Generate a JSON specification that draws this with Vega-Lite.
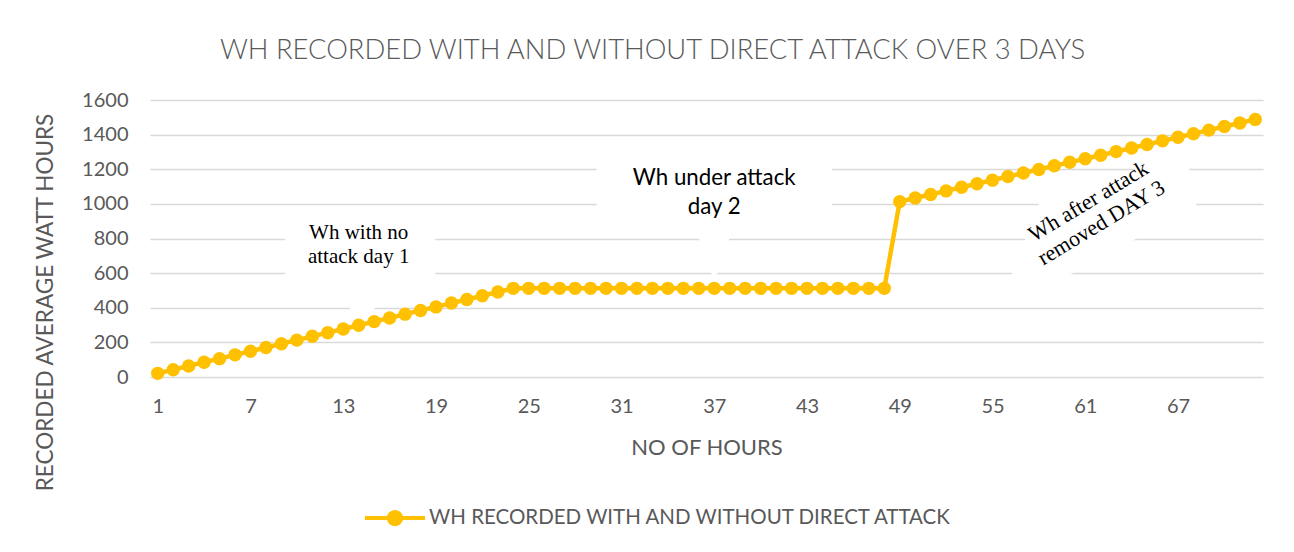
{
  "$schema": "https://vega.github.io/schema/vega-lite/v6.json",
  "width": 1113,
  "height": 277,
  "autosize": "none",
  "padding": {"left": 150, "top": 100, "right": 31, "bottom": 175},
  "background": "white",
  "config": {
    "view": {"stroke": null},
    "font": "Lato"
  },
  "title": {
    "text": "WH RECORDED WITH AND WITHOUT DIRECT ATTACK OVER 3 DAYS",
    "anchor": "middle",
    "frame": "group",
    "dx": -54,
    "offset": 26,
    "font": "Lato",
    "fontSize": 27.4,
    "fontWeight": 300,
    "color": "#595959"
  },
  "data": {
    "values": [
      {"hour": 1, "wh": 21}, {"hour": 2, "wh": 42}, {"hour": 3, "wh": 64}, {"hour": 4, "wh": 85},
      {"hour": 5, "wh": 106}, {"hour": 6, "wh": 128}, {"hour": 7, "wh": 149}, {"hour": 8, "wh": 170},
      {"hour": 9, "wh": 192}, {"hour": 10, "wh": 213}, {"hour": 11, "wh": 235}, {"hour": 12, "wh": 256},
      {"hour": 13, "wh": 277}, {"hour": 14, "wh": 299}, {"hour": 15, "wh": 320}, {"hour": 16, "wh": 341},
      {"hour": 17, "wh": 363}, {"hour": 18, "wh": 384}, {"hour": 19, "wh": 405}, {"hour": 20, "wh": 427},
      {"hour": 21, "wh": 448}, {"hour": 22, "wh": 469}, {"hour": 23, "wh": 491}, {"hour": 24, "wh": 512},
      {"hour": 25, "wh": 512}, {"hour": 26, "wh": 512}, {"hour": 27, "wh": 512}, {"hour": 28, "wh": 512},
      {"hour": 29, "wh": 512}, {"hour": 30, "wh": 512}, {"hour": 31, "wh": 512}, {"hour": 32, "wh": 512},
      {"hour": 33, "wh": 512}, {"hour": 34, "wh": 512}, {"hour": 35, "wh": 512}, {"hour": 36, "wh": 512},
      {"hour": 37, "wh": 512}, {"hour": 38, "wh": 512}, {"hour": 39, "wh": 512}, {"hour": 40, "wh": 512},
      {"hour": 41, "wh": 512}, {"hour": 42, "wh": 512}, {"hour": 43, "wh": 512}, {"hour": 44, "wh": 512},
      {"hour": 45, "wh": 512}, {"hour": 46, "wh": 512}, {"hour": 47, "wh": 512}, {"hour": 48, "wh": 512},
      {"hour": 49, "wh": 1013}, {"hour": 50, "wh": 1034}, {"hour": 51, "wh": 1054}, {"hour": 52, "wh": 1075},
      {"hour": 53, "wh": 1096}, {"hour": 54, "wh": 1116}, {"hour": 55, "wh": 1137}, {"hour": 56, "wh": 1158},
      {"hour": 57, "wh": 1178}, {"hour": 58, "wh": 1199}, {"hour": 59, "wh": 1220}, {"hour": 60, "wh": 1240},
      {"hour": 61, "wh": 1261}, {"hour": 62, "wh": 1281}, {"hour": 63, "wh": 1302}, {"hour": 64, "wh": 1323},
      {"hour": 65, "wh": 1343}, {"hour": 66, "wh": 1364}, {"hour": 67, "wh": 1385}, {"hour": 68, "wh": 1405},
      {"hour": 69, "wh": 1426}, {"hour": 70, "wh": 1447}, {"hour": 71, "wh": 1467}, {"hour": 72, "wh": 1488}
    ]
  },
  "layer": [
    {
      "data": {"values": [{}]},
      "mark": {"type": "point", "shape": "M-0.98,-0.51 L1.02,-0.51 L1.02,0.51 L0.39,0.51 L0.04,1.0 L-0.28,0.51 L-0.98,0.51 Z", "size": 22500, "filled": true, "color": "white", "opacity": 1, "strokeWidth": 0},
      "encoding": {
        "x": {"datum": 14, "type": "quantitative", "scale": {"domain": [0.5, 72.5], "nice": false, "zero": false}, "axis": {"values": [1, 7, 13, 19, 25, 31, 37, 43, 49, 55, 61, 67], "grid": false, "ticks": false, "domain": false, "labelOverlap": false, "labelFont": "Lato", "labelFontSize": 20, "labelColor": "#595959", "labelPadding": 19, "labelFlush": false, "title": "NO OF HOURS", "titleFont": "Lato", "titleFontSize": 22, "titleFontWeight": "normal", "titleColor": "#595959", "titleY": 70, "titleBaseline": "middle"}},
        "y": {"datum": 725, "type": "quantitative", "scale": {"domain": [0, 1600], "nice": false}, "axis": {"values": [0, 200, 400, 600, 800, 1000, 1200, 1400, 1600], "format": "d", "grid": true, "gridColor": "#d9d9d9", "gridWidth": 1.6, "ticks": false, "domain": false, "labelOverlap": false, "labelFont": "Lato", "labelFontSize": 20, "labelColor": "#595959", "labelPadding": 22, "labelFlush": false, "title": "RECORDED AVERAGE WATT HOURS", "titleFont": "Lato", "titleFontSize": 22.5, "titleFontWeight": "normal", "titleColor": "#595959", "titleAngle": -90, "titleAlign": "center", "titleBaseline": "middle", "titleX": -105, "titleY": 202}}
      }
    },
    {
      "data": {"values": [{}]},
      "mark": {"type": "point", "shape": "M-1,-0.34 L1,-0.34 L1,0.34 L0.17,0.34 L0,0.82 L-0.17,0.34 L-1,0.34 Z", "size": 55225, "filled": true, "color": "white", "opacity": 1, "strokeWidth": 0},
      "encoding": {
        "x": {"datum": 37, "type": "quantitative", "scale": {"domain": [0.5, 72.5], "nice": false, "zero": false}, "axis": {"values": [1, 7, 13, 19, 25, 31, 37, 43, 49, 55, 61, 67], "grid": false, "ticks": false, "domain": false, "labelOverlap": false, "labelFont": "Lato", "labelFontSize": 20, "labelColor": "#595959", "labelPadding": 19, "labelFlush": false, "title": "NO OF HOURS", "titleFont": "Lato", "titleFontSize": 22, "titleFontWeight": "normal", "titleColor": "#595959", "titleY": 70, "titleBaseline": "middle"}},
        "y": {"datum": 1109, "type": "quantitative", "scale": {"domain": [0, 1600], "nice": false}, "axis": {"values": [0, 200, 400, 600, 800, 1000, 1200, 1400, 1600], "format": "d", "grid": true, "gridColor": "#d9d9d9", "gridWidth": 1.6, "ticks": false, "domain": false, "labelOverlap": false, "labelFont": "Lato", "labelFontSize": 20, "labelColor": "#595959", "labelPadding": 22, "labelFlush": false, "title": "RECORDED AVERAGE WATT HOURS", "titleFont": "Lato", "titleFontSize": 22.5, "titleFontWeight": "normal", "titleColor": "#595959", "titleAngle": -90, "titleAlign": "center", "titleBaseline": "middle", "titleX": -105, "titleY": 202}}
      }
    },
    {
      "data": {"values": [{}]},
      "mark": {"type": "point", "shape": "M-0.96,0.67 L-0.61,-0.23 L0.85,-0.73 L0.96,-0.19 L-0.63,0.67 Z", "size": 40000, "filled": true, "color": "white", "opacity": 1, "strokeWidth": 0},
      "encoding": {
        "x": {"datum": 62, "type": "quantitative", "scale": {"domain": [0.5, 72.5], "nice": false, "zero": false}, "axis": {"values": [1, 7, 13, 19, 25, 31, 37, 43, 49, 55, 61, 67], "grid": false, "ticks": false, "domain": false, "labelOverlap": false, "labelFont": "Lato", "labelFontSize": 20, "labelColor": "#595959", "labelPadding": 19, "labelFlush": false, "title": "NO OF HOURS", "titleFont": "Lato", "titleFontSize": 22, "titleFontWeight": "normal", "titleColor": "#595959", "titleY": 70, "titleBaseline": "middle"}},
        "y": {"datum": 878, "type": "quantitative", "scale": {"domain": [0, 1600], "nice": false}, "axis": {"values": [0, 200, 400, 600, 800, 1000, 1200, 1400, 1600], "format": "d", "grid": true, "gridColor": "#d9d9d9", "gridWidth": 1.6, "ticks": false, "domain": false, "labelOverlap": false, "labelFont": "Lato", "labelFontSize": 20, "labelColor": "#595959", "labelPadding": 22, "labelFlush": false, "title": "RECORDED AVERAGE WATT HOURS", "titleFont": "Lato", "titleFontSize": 22.5, "titleFontWeight": "normal", "titleColor": "#595959", "titleAngle": -90, "titleAlign": "center", "titleBaseline": "middle", "titleX": -105, "titleY": 202}}
      }
    },
    {
      "mark": {"type": "line", "color": "#FFC000", "strokeWidth": 4.5, "strokeJoin": "round"},
      "encoding": {
        "x": {"field": "hour", "type": "quantitative", "scale": {"domain": [0.5, 72.5], "nice": false, "zero": false}, "axis": {"values": [1, 7, 13, 19, 25, 31, 37, 43, 49, 55, 61, 67], "grid": false, "ticks": false, "domain": false, "labelOverlap": false, "labelFont": "Lato", "labelFontSize": 20, "labelColor": "#595959", "labelPadding": 19, "labelFlush": false, "title": "NO OF HOURS", "titleFont": "Lato", "titleFontSize": 22, "titleFontWeight": "normal", "titleColor": "#595959", "titleY": 70, "titleBaseline": "middle"}},
        "y": {"field": "wh", "type": "quantitative", "scale": {"domain": [0, 1600], "nice": false}, "axis": {"values": [0, 200, 400, 600, 800, 1000, 1200, 1400, 1600], "format": "d", "grid": true, "gridColor": "#d9d9d9", "gridWidth": 1.6, "ticks": false, "domain": false, "labelOverlap": false, "labelFont": "Lato", "labelFontSize": 20, "labelColor": "#595959", "labelPadding": 22, "labelFlush": false, "title": "RECORDED AVERAGE WATT HOURS", "titleFont": "Lato", "titleFontSize": 22.5, "titleFontWeight": "normal", "titleColor": "#595959", "titleAngle": -90, "titleAlign": "center", "titleBaseline": "middle", "titleX": -105, "titleY": 202}}
      }
    },
    {
      "mark": {"type": "point", "filled": true, "size": 180, "opacity": 1, "strokeWidth": 0},
      "encoding": {
        "x": {"field": "hour", "type": "quantitative", "scale": {"domain": [0.5, 72.5], "nice": false, "zero": false}, "axis": {"values": [1, 7, 13, 19, 25, 31, 37, 43, 49, 55, 61, 67], "grid": false, "ticks": false, "domain": false, "labelOverlap": false, "labelFont": "Lato", "labelFontSize": 20, "labelColor": "#595959", "labelPadding": 19, "labelFlush": false, "title": "NO OF HOURS", "titleFont": "Lato", "titleFontSize": 22, "titleFontWeight": "normal", "titleColor": "#595959", "titleY": 70, "titleBaseline": "middle"}},
        "y": {"field": "wh", "type": "quantitative", "scale": {"domain": [0, 1600], "nice": false}, "axis": {"values": [0, 200, 400, 600, 800, 1000, 1200, 1400, 1600], "format": "d", "grid": true, "gridColor": "#d9d9d9", "gridWidth": 1.6, "ticks": false, "domain": false, "labelOverlap": false, "labelFont": "Lato", "labelFontSize": 20, "labelColor": "#595959", "labelPadding": 22, "labelFlush": false, "title": "RECORDED AVERAGE WATT HOURS", "titleFont": "Lato", "titleFontSize": 22.5, "titleFontWeight": "normal", "titleColor": "#595959", "titleAngle": -90, "titleAlign": "center", "titleBaseline": "middle", "titleX": -105, "titleY": 202}},
        "color": {
          "datum": "WH RECORDED WITH AND WITHOUT DIRECT ATTACK",
          "type": "nominal",
          "scale": {"range": ["#FFC000"]},
          "legend": {
            "title": null,
            "orient": "none",
            "legendX": 215,
            "legendY": 388,
            "padding": 0,
            "symbolType": "M-1,-0.07 L1,-0.07 L1,0.07 L-1,0.07 Z M0.27,0 A0.27,0.27 0 1,1 -0.27,0 A0.27,0.27 0 1,1 0.27,0 Z",
            "symbolSize": 3600,
            "symbolStrokeWidth": 0,
            "symbolOpacity": 1,
            "labelFont": "Lato",
            "labelFontSize": 20.5,
            "labelColor": "#595959",
            "labelOffset": 4,
            "labelLimit": 800
          }
        }
      }
    },
    {
      "data": {"values": [{}]},
      "mark": {"type": "text", "text": ["Wh with no", "attack day 1"], "font": "Liberation Serif", "fontSize": 21, "lineHeight": 24, "align": "center", "baseline": "middle", "color": "#000000"},
      "encoding": {
        "x": {"datum": 14, "type": "quantitative", "scale": {"domain": [0.5, 72.5], "nice": false, "zero": false}, "axis": {"values": [1, 7, 13, 19, 25, 31, 37, 43, 49, 55, 61, 67], "grid": false, "ticks": false, "domain": false, "labelOverlap": false, "labelFont": "Lato", "labelFontSize": 20, "labelColor": "#595959", "labelPadding": 19, "labelFlush": false, "title": "NO OF HOURS", "titleFont": "Lato", "titleFontSize": 22, "titleFontWeight": "normal", "titleColor": "#595959", "titleY": 70, "titleBaseline": "middle"}},
        "y": {"datum": 832, "type": "quantitative", "scale": {"domain": [0, 1600], "nice": false}, "axis": {"values": [0, 200, 400, 600, 800, 1000, 1200, 1400, 1600], "format": "d", "grid": true, "gridColor": "#d9d9d9", "gridWidth": 1.6, "ticks": false, "domain": false, "labelOverlap": false, "labelFont": "Lato", "labelFontSize": 20, "labelColor": "#595959", "labelPadding": 22, "labelFlush": false, "title": "RECORDED AVERAGE WATT HOURS", "titleFont": "Lato", "titleFontSize": 22.5, "titleFontWeight": "normal", "titleColor": "#595959", "titleAngle": -90, "titleAlign": "center", "titleBaseline": "middle", "titleX": -105, "titleY": 202}}
      }
    },
    {
      "data": {"values": [{}]},
      "mark": {"type": "text", "text": ["Wh under attack", "day 2"], "font": "Lato", "fontSize": 22.3, "lineHeight": 29, "align": "center", "baseline": "middle", "color": "#000000"},
      "encoding": {
        "x": {"datum": 37, "type": "quantitative", "scale": {"domain": [0.5, 72.5], "nice": false, "zero": false}, "axis": {"values": [1, 7, 13, 19, 25, 31, 37, 43, 49, 55, 61, 67], "grid": false, "ticks": false, "domain": false, "labelOverlap": false, "labelFont": "Lato", "labelFontSize": 20, "labelColor": "#595959", "labelPadding": 19, "labelFlush": false, "title": "NO OF HOURS", "titleFont": "Lato", "titleFontSize": 22, "titleFontWeight": "normal", "titleColor": "#595959", "titleY": 70, "titleBaseline": "middle"}},
        "y": {"datum": 1149, "type": "quantitative", "scale": {"domain": [0, 1600], "nice": false}, "axis": {"values": [0, 200, 400, 600, 800, 1000, 1200, 1400, 1600], "format": "d", "grid": true, "gridColor": "#d9d9d9", "gridWidth": 1.6, "ticks": false, "domain": false, "labelOverlap": false, "labelFont": "Lato", "labelFontSize": 20, "labelColor": "#595959", "labelPadding": 22, "labelFlush": false, "title": "RECORDED AVERAGE WATT HOURS", "titleFont": "Lato", "titleFontSize": 22.5, "titleFontWeight": "normal", "titleColor": "#595959", "titleAngle": -90, "titleAlign": "center", "titleBaseline": "middle", "titleX": -105, "titleY": 202}}
      }
    },
    {
      "data": {"values": [{}]},
      "mark": {"type": "text", "text": ["Wh after attack", "removed DAY 3"], "font": "Liberation Serif", "fontSize": 22, "lineHeight": 25, "align": "center", "baseline": "middle", "angle": -31, "color": "#000000"},
      "encoding": {
        "x": {"datum": 61.2, "type": "quantitative", "scale": {"domain": [0.5, 72.5], "nice": false, "zero": false}, "axis": {"values": [1, 7, 13, 19, 25, 31, 37, 43, 49, 55, 61, 67], "grid": false, "ticks": false, "domain": false, "labelOverlap": false, "labelFont": "Lato", "labelFontSize": 20, "labelColor": "#595959", "labelPadding": 19, "labelFlush": false, "title": "NO OF HOURS", "titleFont": "Lato", "titleFontSize": 22, "titleFontWeight": "normal", "titleColor": "#595959", "titleY": 70, "titleBaseline": "middle"}},
        "y": {"datum": 1015, "type": "quantitative", "scale": {"domain": [0, 1600], "nice": false}, "axis": {"values": [0, 200, 400, 600, 800, 1000, 1200, 1400, 1600], "format": "d", "grid": true, "gridColor": "#d9d9d9", "gridWidth": 1.6, "ticks": false, "domain": false, "labelOverlap": false, "labelFont": "Lato", "labelFontSize": 20, "labelColor": "#595959", "labelPadding": 22, "labelFlush": false, "title": "RECORDED AVERAGE WATT HOURS", "titleFont": "Lato", "titleFontSize": 22.5, "titleFontWeight": "normal", "titleColor": "#595959", "titleAngle": -90, "titleAlign": "center", "titleBaseline": "middle", "titleX": -105, "titleY": 202}}
      }
    }
  ]
}
